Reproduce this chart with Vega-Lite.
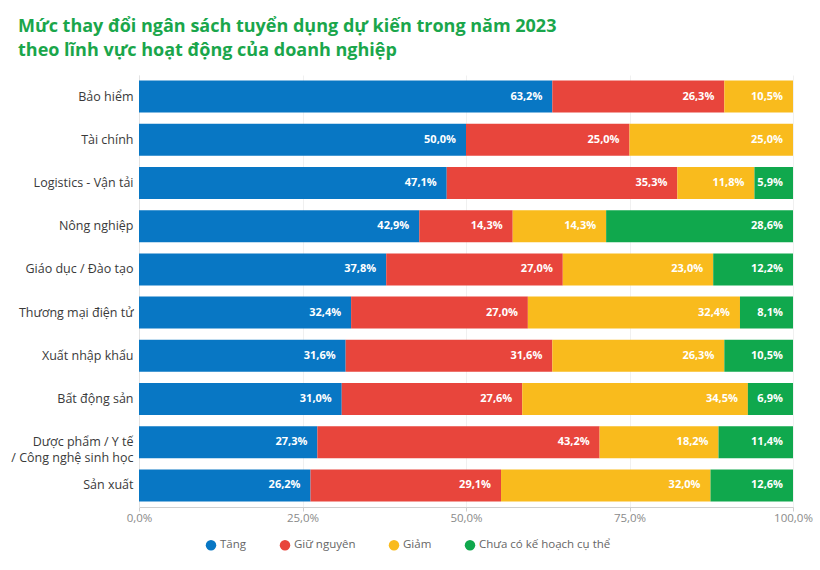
{
  "$schema": "https://vega.github.io/schema/vega-lite/v6.json",
  "autosize": {"type": "none"},
  "width": 654,
  "height": 432,
  "padding": {"left": 139, "top": 75, "right": 27, "bottom": 63},
  "background": "white",
  "title": {
    "text": ["Mức thay đổi ngân sách tuyển dụng dự kiến trong năm 2023", "theo lĩnh vực hoạt động của doanh nghiệp"],
    "anchor": "start",
    "frame": "group",
    "dx": -121,
    "offset": 15,
    "font": "Open Sans",
    "fontSize": 18,
    "fontWeight": "bold",
    "color": "#1aa64b",
    "lineHeight": 24
  },
  "data": {
    "values": [
      {"nganh": "Bảo hiểm", "loai": "Tăng", "o": 1, "v": 63.2},
      {"nganh": "Bảo hiểm", "loai": "Giữ nguyên", "o": 2, "v": 26.3},
      {"nganh": "Bảo hiểm", "loai": "Giảm", "o": 3, "v": 10.5},
      {"nganh": "Tài chính", "loai": "Tăng", "o": 1, "v": 50.0},
      {"nganh": "Tài chính", "loai": "Giữ nguyên", "o": 2, "v": 25.0},
      {"nganh": "Tài chính", "loai": "Giảm", "o": 3, "v": 25.0},
      {"nganh": "Logistics - Vận tải", "loai": "Tăng", "o": 1, "v": 47.1},
      {"nganh": "Logistics - Vận tải", "loai": "Giữ nguyên", "o": 2, "v": 35.3},
      {"nganh": "Logistics - Vận tải", "loai": "Giảm", "o": 3, "v": 11.8},
      {"nganh": "Logistics - Vận tải", "loai": "Chưa có kế hoạch cụ thể", "o": 4, "v": 5.9},
      {"nganh": "Nông nghiệp", "loai": "Tăng", "o": 1, "v": 42.9},
      {"nganh": "Nông nghiệp", "loai": "Giữ nguyên", "o": 2, "v": 14.3},
      {"nganh": "Nông nghiệp", "loai": "Giảm", "o": 3, "v": 14.3},
      {"nganh": "Nông nghiệp", "loai": "Chưa có kế hoạch cụ thể", "o": 4, "v": 28.6},
      {"nganh": "Giáo dục / Đào tạo", "loai": "Tăng", "o": 1, "v": 37.8},
      {"nganh": "Giáo dục / Đào tạo", "loai": "Giữ nguyên", "o": 2, "v": 27.0},
      {"nganh": "Giáo dục / Đào tạo", "loai": "Giảm", "o": 3, "v": 23.0},
      {"nganh": "Giáo dục / Đào tạo", "loai": "Chưa có kế hoạch cụ thể", "o": 4, "v": 12.2},
      {"nganh": "Thương mại điện tử", "loai": "Tăng", "o": 1, "v": 32.4},
      {"nganh": "Thương mại điện tử", "loai": "Giữ nguyên", "o": 2, "v": 27.0},
      {"nganh": "Thương mại điện tử", "loai": "Giảm", "o": 3, "v": 32.4},
      {"nganh": "Thương mại điện tử", "loai": "Chưa có kế hoạch cụ thể", "o": 4, "v": 8.1},
      {"nganh": "Xuất nhập khẩu", "loai": "Tăng", "o": 1, "v": 31.6},
      {"nganh": "Xuất nhập khẩu", "loai": "Giữ nguyên", "o": 2, "v": 31.6},
      {"nganh": "Xuất nhập khẩu", "loai": "Giảm", "o": 3, "v": 26.3},
      {"nganh": "Xuất nhập khẩu", "loai": "Chưa có kế hoạch cụ thể", "o": 4, "v": 10.5},
      {"nganh": "Bất động sản", "loai": "Tăng", "o": 1, "v": 31.0},
      {"nganh": "Bất động sản", "loai": "Giữ nguyên", "o": 2, "v": 27.6},
      {"nganh": "Bất động sản", "loai": "Giảm", "o": 3, "v": 34.5},
      {"nganh": "Bất động sản", "loai": "Chưa có kế hoạch cụ thể", "o": 4, "v": 6.9},
      {"nganh": "Dược phẩm / Y tế|/ Công nghệ sinh học", "loai": "Tăng", "o": 1, "v": 27.3},
      {"nganh": "Dược phẩm / Y tế|/ Công nghệ sinh học", "loai": "Giữ nguyên", "o": 2, "v": 43.2},
      {"nganh": "Dược phẩm / Y tế|/ Công nghệ sinh học", "loai": "Giảm", "o": 3, "v": 18.2},
      {"nganh": "Dược phẩm / Y tế|/ Công nghệ sinh học", "loai": "Chưa có kế hoạch cụ thể", "o": 4, "v": 11.4},
      {"nganh": "Sản xuất", "loai": "Tăng", "o": 1, "v": 26.2},
      {"nganh": "Sản xuất", "loai": "Giữ nguyên", "o": 2, "v": 29.1},
      {"nganh": "Sản xuất", "loai": "Giảm", "o": 3, "v": 32.0},
      {"nganh": "Sản xuất", "loai": "Chưa có kế hoạch cụ thể", "o": 4, "v": 12.6}
    ]
  },
  "transform": [
    {"stack": "v", "groupby": ["nganh"], "sort": [{"field": "o", "order": "ascending"}], "as": ["x0", "x1"], "offset": "normalize"},
    {"calculate": "replace(format(datum.v, '.1f'), '.', ',') + '%'", "as": "lbl"}
  ],
  "encoding": {
    "y": {
      "field": "nganh",
      "type": "nominal",
      "sort": null,
      "title": null,
      "scale": {"paddingInner": 0.26, "paddingOuter": 0.13},
      "axis": {
        "labelExpr": "split(datum.label, '|')",
        "labelFont": "Open Sans",
        "labelFontSize": 12.5,
        "labelColor": "#3a3a3a",
        "labelPadding": 6,
        "labelLineHeight": 16,
        "ticks": false,
        "domain": true,
        "domainColor": "#e3e3e3",
        "labelLimit": 200
      }
    }
  },
  "layer": [
    {
      "mark": {"type": "bar"},
      "encoding": {
        "x": {
          "field": "x0",
          "type": "quantitative",
          "scale": {"domain": [0, 1], "nice": false},
          "title": null,
          "axis": {
            "values": [0, 0.25, 0.5, 0.75, 1],
            "labelExpr": "replace(format(datum.value * 100, '.1f'), '.', ',') + '%'",
            "labelFont": "Open Sans",
            "labelFontSize": 11.5,
            "labelColor": "#8a8a8a",
            "grid": true,
            "gridColor": "#f0f0f0",
            "domainColor": "#cfcfcf",
            "tickColor": "#cfcfcf",
            "tickSize": 4,
            "labelPadding": 1,
            "labelFlush": false
          }
        },
        "x2": {"field": "x1"},
        "color": {
          "field": "loai",
          "type": "nominal",
          "sort": ["Tăng", "Giữ nguyên", "Giảm", "Chưa có kế hoạch cụ thể"],
          "scale": {
            "domain": ["Tăng", "Giữ nguyên", "Giảm", "Chưa có kế hoạch cụ thể"],
            "range": ["#0877c4", "#e8453c", "#f9bb1d", "#10a84d"]
          },
          "legend": {
            "title": null,
            "orient": "none",
            "legendX": 66,
            "legendY": 464,
            "direction": "horizontal",
            "symbolType": "circle",
            "symbolSize": 110,
            "labelFont": "Open Sans",
            "labelFontSize": 11.5,
            "labelColor": "#666666",
            "columnPadding": 32,
            "labelOffset": 3
          }
        }
      }
    },
    {
      "mark": {"type": "text", "align": "right", "baseline": "middle", "dx": -10, "color": "white", "font": "Open Sans", "fontWeight": "bold", "fontSize": 11},
      "encoding": {
        "x": {"field": "x1", "type": "quantitative"},
        "text": {"field": "lbl"}
      }
    }
  ],
  "config": {"view": {"stroke": null}}
}
